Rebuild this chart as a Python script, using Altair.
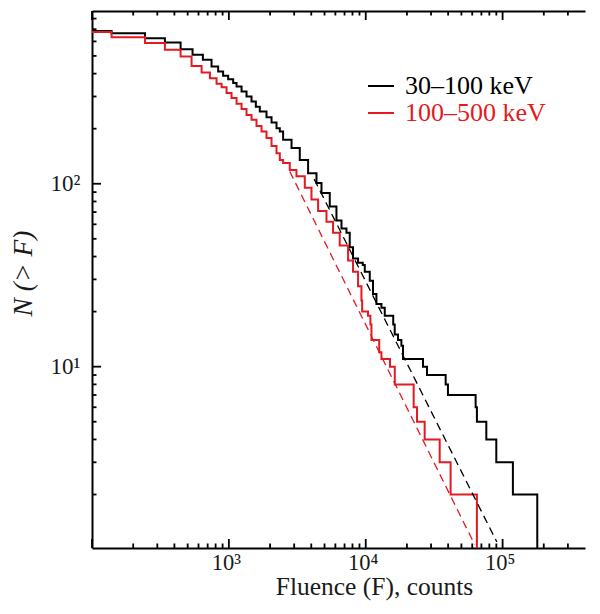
import altair as alt
import pandas as pd

# ---------------- data ----------------
series = ["30–100 keV", "100–500 keV"]
colors = ["#000000", "#e31a22"]

# 30-100 keV: N(>F) step curve (fluence where each level starts, level)
black_F = [100, 139, 244, 341, 444, 543, 646, 747, 835, 908, 988, 1075, 1138, 1238,
           1346, 1464, 1574, 1683, 1884, 2050, 2229, 2356, 2491, 2870, 3297, 3792,
           4367, 4750, 5460, 6110, 6650, 7230, 7640, 8075, 8790, 9510, 9840, 10700,
           11300, 11970, 13020, 13770, 15880, 16280, 17210, 18220, 18720, 26200,
           28020, 38370, 39880, 63520, 64920, 76030, 89950, 118900, 179200]
black_N = [685, 666, 625, 592, 543, 507, 476, 437, 411, 389, 373, 355, 340, 319,
           300, 282, 264, 248, 231, 216, 201, 193, 174, 157, 135, 114,
           101, 89, 75, 63, 57, 54, 45, 39, 37, 36, 33, 29.5,
           25, 22, 21, 19, 17, 15, 14, 13, 11, 10,
           9, 8, 7, 6, 5, 4, 3, 2, 1]

# 100-500 keV
red_F = [100, 139, 244, 341, 444, 534, 632, 727, 813, 885, 962, 1046, 1138, 1238,
         1346, 1464, 1592, 1733, 1884, 2050, 2229, 2356, 2491, 2786, 3118, 3587,
         4014, 4487, 5167, 5770, 6455, 7430, 8075, 8790, 9303, 9413, 10390, 10820,
         11010, 12550, 13020, 15040, 16300, 22400, 23700, 26950, 34700, 41700, 64900]
red_N = [675, 633, 588, 540, 496, 441, 406, 378, 352, 337, 313, 294, 274, 256,
         238, 224, 207, 193, 178, 161, 147, 135, 130, 119, 110, 95,
         82, 71, 62, 54, 46, 38, 33, 27.5, 23, 20, 19, 17,
         14, 12, 11, 10, 8, 6, 5, 4, 3, 2, 1]

# -3/2 power-law fits (dashed)
black_fit_F = [4200, 90800]
black_fit_N = [106, 1.1]
red_fit_F = [2786, 62500]
red_fit_N = [116.7, 1.065]

# axis ticks / labels
x_label_values = [1000, 10000, 100000]
x_label_texts = ["10³", "10⁴", "10⁵"]
y_label_values = [10, 100]
y_label_texts = ["10¹", "10²"]
x_major = [100, 1000, 10000, 100000]
x_minor = [m * 10 ** k for k in (2, 3, 4, 5) for m in range(2, 10) if m * 10 ** k < 4e5]
y_major = [10, 100]
y_minor = [m * 10 ** k for k in (0, 1, 2) for m in range(2, 10) if m * 10 ** k < 880]

x_title = "Fluence (F), counts"
y_title = "N (> F)"

# ---------------- chart ----------------
FONT = "Liberation Serif"
W, H = 493, 537
MAJOR, MINOR = 9, 4.5
TICK_COLOR = "#000000"
TICK_W = 1.8
xscale = alt.Scale(type="log", domain=[100, 4e5])
yscale = alt.Scale(type="log", domain=[1.02, 880])
cscale = alt.Scale(domain=series, range=colors)


def label_expr(values, texts):
    parts = [f"datum.value == {v} ? '{t}'" for v, t in zip(values, texts)]
    return " : ".join(parts) + " : ''"


def x_ticks_bottom(values, size):
    df = pd.DataFrame({"v": [float(v) for v in values]})
    return alt.Chart(df).mark_rule(strokeWidth=TICK_W, color=TICK_COLOR).encode(
        x=alt.X("v:Q", scale=xscale, axis=None),
        y=alt.value(H), y2=alt.value(H - size))


def x_ticks_top(values, size):
    df = pd.DataFrame({"v": [float(v) for v in values]})
    return alt.Chart(df).mark_tick(size=size, thickness=TICK_W, color=TICK_COLOR, opacity=1,
                                   orient="vertical").encode(
        x=alt.X("v:Q", scale=xscale, axis=None),
        y=alt.value(size / 2))


def y_ticks(values, size):
    df = pd.DataFrame({"v": [float(v) for v in values]})
    return alt.Chart(df).mark_rule(strokeWidth=TICK_W, color=TICK_COLOR).encode(
        y=alt.Y("v:Q", scale=yscale, axis=None),
        x=alt.value(0), x2=alt.value(size))


legend = alt.Legend(title=None, orient="none", legendX=275, legendY=61,
                    symbolType="stroke", symbolStrokeWidth=2, symbolSize=676,
                    labelFont=FONT, labelFontSize=26, labelOffset=10,
                    rowPadding={"expr": "-3"},
                    labelLimit=400,
                    labelColor={"expr": f"datum.value == '{series[0]}' ? '{colors[0]}' : '{colors[1]}'"})

black_df = pd.DataFrame({"F": black_F, "N": black_N, "series": series[0]})
red_df = pd.DataFrame({"F": red_F, "N": red_N, "series": series[1]})
bfit_df = pd.DataFrame({"F": black_fit_F, "N": black_fit_N})
rfit_df = pd.DataFrame({"F": red_fit_F, "N": red_fit_N})

x_main_axis = alt.Axis(orient="bottom", values=x_label_values,
                       labelExpr=label_expr(x_label_values, x_label_texts),
                       ticks=False, domain=True, domainWidth=2, domainColor="black",
                       labelFont=FONT, labelFontSize=22.5, labelPadding=3, labelOffset=-3,
                       labelColor="#1a1a1a",
                       title=x_title, titleFont=FONT, titleFontSize=25.5,
                       titleFontWeight="normal", titleColor="#1a1a1a",
                       titleX=282, titleY=46, titleBaseline="alphabetic", grid=False)
y_main_axis = alt.Axis(orient="left", values=y_label_values,
                       labelExpr=label_expr(y_label_values, y_label_texts),
                       ticks=False, domain=True, domainWidth=2, domainColor="black",
                       labelFont=FONT, labelFontSize=23, labelPadding=12,
                       labelColor="#1a1a1a",
                       title=y_title, titleFont=FONT, titleFontSize=27.5,
                       titleFontStyle="italic", titleFontWeight="normal",
                       titleColor="#1a1a1a", titleX=-61, titleY=262,
                       titleBaseline="alphabetic", titleAngle=270, grid=False)
x_top_domain = alt.Axis(orient="top", labels=False, ticks=False, domain=True,
                        domainWidth=2, domainColor="black", title=None, grid=False)

l1 = alt.Chart(black_df).mark_line(interpolate="step-after", strokeWidth=2, clip=True).encode(
    x=alt.X("F:Q", scale=xscale, axis=x_main_axis),
    y=alt.Y("N:Q", scale=yscale, axis=y_main_axis),
    color=alt.Color("series:N", scale=cscale, legend=legend),
)
l2 = alt.Chart(red_df).mark_line(interpolate="step-after", strokeWidth=2, clip=True).encode(
    x=alt.X("F:Q", scale=xscale, axis=None),
    y=alt.Y("N:Q", scale=yscale, axis=None),
    color=alt.Color("series:N", scale=cscale, legend=legend),
)
l3 = alt.Chart(bfit_df).mark_line(strokeDash=[8, 5], strokeWidth=1.3, color=colors[0], clip=True).encode(
    x=alt.X("F:Q", scale=xscale, axis=None),
    y=alt.Y("N:Q", scale=yscale, axis=None),
)
l4 = alt.Chart(rfit_df).mark_line(strokeDash=[8, 5], strokeWidth=1.3, color=colors[1], clip=True).encode(
    x=alt.X("F:Q", scale=xscale, axis=x_top_domain),
    y=alt.Y("N:Q", scale=yscale, axis=None),
)

tick_layers = [
    x_ticks_bottom(x_major, MAJOR), x_ticks_bottom(x_minor, MINOR),
    x_ticks_top(x_major, MAJOR), x_ticks_top(x_minor, MINOR),
    y_ticks(y_major, MAJOR), y_ticks(y_minor, MINOR),
]

chart = alt.layer(l1, l2, l3, l4, *tick_layers).resolve_axis(
    x="independent", y="independent"
).properties(
    width=W, height=H,
    padding={"left": 84, "top": 3, "right": 5, "bottom": 53},
    autosize=alt.AutoSizeParams(type="none"),
).configure_view(stroke="transparent", strokeWidth=0)

chart.save("out.html", embed_options={"renderer": "svg", "actions": False})
